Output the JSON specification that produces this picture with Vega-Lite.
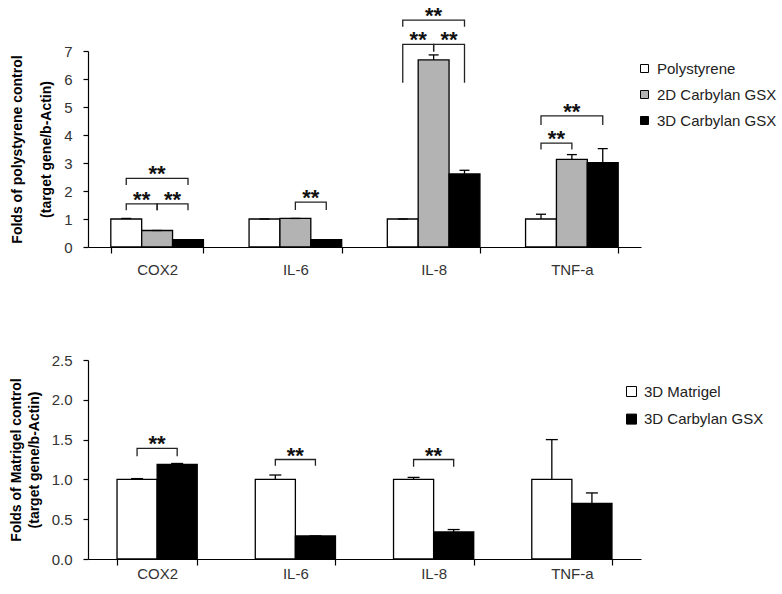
{
  "$schema": "https://vega.github.io/schema/vega-lite/v6.json",
  "padding": {"left": 9, "top": 5, "right": 5, "bottom": 5},
  "spacing": 76,
  "resolve": {
    "scale": {"x": "independent", "xOffset": "independent", "y": "independent", "color": "independent"},
    "axis": {"x": "independent", "y": "independent"},
    "legend": {"color": "independent"}
  },
  "config": {
    "view": {"stroke": null},
    "font": "Liberation Sans",
    "axis": {
      "grid": false, "domainColor": "black", "tickColor": "black", "domainWidth": 1.2, "tickWidth": 1.2,
      "labelColor": "#333", "labelFontSize": 15, "labelFont": "Liberation Sans",
      "tickSize": 5, "labelPadding": 11,
      "titleFont": "Liberation Sans", "titleFontSize": 14, "titleFontWeight": "bold", "titleColor": "black"
    },
    "legend": {"labelFont": "Liberation Sans", "labelFontSize": 15, "labelColor": "#222", "padding": 0}
  },
  "datasets": {
    "top_bars": [
      {"gene": "COX2", "group": "Polystyrene", "value": 1.0, "hi": 1.02},
      {"gene": "COX2", "group": "2D Carbylan GSX", "value": 0.59, "hi": 0.59},
      {"gene": "COX2", "group": "3D Carbylan GSX", "value": 0.26, "hi": 0.26},
      {"gene": "IL-6", "group": "Polystyrene", "value": 1.0, "hi": 1.0},
      {"gene": "IL-6", "group": "2D Carbylan GSX", "value": 1.02, "hi": 1.02},
      {"gene": "IL-6", "group": "3D Carbylan GSX", "value": 0.26, "hi": 0.26},
      {"gene": "IL-8", "group": "Polystyrene", "value": 1.0, "hi": 1.0},
      {"gene": "IL-8", "group": "2D Carbylan GSX", "value": 6.68, "hi": 6.86},
      {"gene": "IL-8", "group": "3D Carbylan GSX", "value": 2.61, "hi": 2.74},
      {"gene": "TNF-a", "group": "Polystyrene", "value": 1.0, "hi": 1.17},
      {"gene": "TNF-a", "group": "2D Carbylan GSX", "value": 3.13, "hi": 3.3},
      {"gene": "TNF-a", "group": "3D Carbylan GSX", "value": 3.01, "hi": 3.51}
    ],
    "top_brackets": [
      {"id": "c1", "gene": "COX2", "group": "Polystyrene", "y": 1.31, "ord": 1},
      {"id": "c1", "gene": "COX2", "group": "Polystyrene", "y": 1.54, "ord": 2},
      {"id": "c1", "gene": "COX2", "group": "2D Carbylan GSX", "y": 1.54, "ord": 3},
      {"id": "c1", "gene": "COX2", "group": "2D Carbylan GSX", "y": 1.31, "ord": 4},
      {"id": "c2", "gene": "COX2", "group": "2D Carbylan GSX", "y": 1.31, "ord": 1},
      {"id": "c2", "gene": "COX2", "group": "2D Carbylan GSX", "y": 1.54, "ord": 2},
      {"id": "c2", "gene": "COX2", "group": "3D Carbylan GSX", "y": 1.54, "ord": 3},
      {"id": "c2", "gene": "COX2", "group": "3D Carbylan GSX", "y": 1.31, "ord": 4},
      {"id": "c3", "gene": "COX2", "group": "Polystyrene", "y": 2.21, "ord": 1},
      {"id": "c3", "gene": "COX2", "group": "Polystyrene", "y": 2.45, "ord": 2},
      {"id": "c3", "gene": "COX2", "group": "3D Carbylan GSX", "y": 2.45, "ord": 3},
      {"id": "c3", "gene": "COX2", "group": "3D Carbylan GSX", "y": 2.21, "ord": 4},
      {"id": "i6", "gene": "IL-6", "group": "2D Carbylan GSX", "y": 1.32, "ord": 1},
      {"id": "i6", "gene": "IL-6", "group": "2D Carbylan GSX", "y": 1.6, "ord": 2},
      {"id": "i6", "gene": "IL-6", "group": "3D Carbylan GSX", "y": 1.6, "ord": 3},
      {"id": "i6", "gene": "IL-6", "group": "3D Carbylan GSX", "y": 1.32, "ord": 4},
      {"id": "i8a", "gene": "IL-8", "group": "Polystyrene", "y": 5.87, "ord": 1},
      {"id": "i8a", "gene": "IL-8", "group": "Polystyrene", "y": 7.24, "ord": 2},
      {"id": "i8a", "gene": "IL-8", "group": "2D Carbylan GSX", "y": 7.24, "ord": 3},
      {"id": "i8a", "gene": "IL-8", "group": "2D Carbylan GSX", "y": 6.98, "ord": 4},
      {"id": "i8b", "gene": "IL-8", "group": "2D Carbylan GSX", "y": 6.98, "ord": 1},
      {"id": "i8b", "gene": "IL-8", "group": "2D Carbylan GSX", "y": 7.24, "ord": 2},
      {"id": "i8b", "gene": "IL-8", "group": "3D Carbylan GSX", "y": 7.24, "ord": 3},
      {"id": "i8b", "gene": "IL-8", "group": "3D Carbylan GSX", "y": 5.87, "ord": 4},
      {"id": "i8c", "gene": "IL-8", "group": "Polystyrene", "y": 7.87, "ord": 1},
      {"id": "i8c", "gene": "IL-8", "group": "Polystyrene", "y": 8.1, "ord": 2},
      {"id": "i8c", "gene": "IL-8", "group": "3D Carbylan GSX", "y": 8.1, "ord": 3},
      {"id": "i8c", "gene": "IL-8", "group": "3D Carbylan GSX", "y": 7.87, "ord": 4},
      {"id": "ta", "gene": "TNF-a", "group": "Polystyrene", "y": 3.48, "ord": 1},
      {"id": "ta", "gene": "TNF-a", "group": "Polystyrene", "y": 3.71, "ord": 2},
      {"id": "ta", "gene": "TNF-a", "group": "2D Carbylan GSX", "y": 3.71, "ord": 3},
      {"id": "ta", "gene": "TNF-a", "group": "2D Carbylan GSX", "y": 3.48, "ord": 4},
      {"id": "tc", "gene": "TNF-a", "group": "Polystyrene", "y": 4.36, "ord": 1},
      {"id": "tc", "gene": "TNF-a", "group": "Polystyrene", "y": 4.68, "ord": 2},
      {"id": "tc", "gene": "TNF-a", "group": "3D Carbylan GSX", "y": 4.68, "ord": 3},
      {"id": "tc", "gene": "TNF-a", "group": "3D Carbylan GSX", "y": 4.36, "ord": 4}
    ],
    "top_stars": [
      {"gene": "COX2", "group": "Polystyrene", "y": 1.54, "between": true, "label": "**"},
      {"gene": "COX2", "group": "2D Carbylan GSX", "y": 1.54, "between": true, "label": "**"},
      {"gene": "COX2", "group": "2D Carbylan GSX", "y": 2.45, "between": false, "label": "**"},
      {"gene": "IL-6", "group": "2D Carbylan GSX", "y": 1.6, "between": true, "label": "**"},
      {"gene": "IL-8", "group": "Polystyrene", "y": 7.24, "between": true, "label": "**"},
      {"gene": "IL-8", "group": "2D Carbylan GSX", "y": 7.24, "between": true, "label": "**"},
      {"gene": "IL-8", "group": "2D Carbylan GSX", "y": 8.1, "between": false, "label": "**"},
      {"gene": "TNF-a", "group": "Polystyrene", "y": 3.71, "between": true, "label": "**"},
      {"gene": "TNF-a", "group": "2D Carbylan GSX", "y": 4.68, "between": false, "label": "**"}
    ],
    "bot_bars": [
      {"gene": "COX2", "group": "3D Matrigel", "value": 1.0, "hi": 1.01},
      {"gene": "COX2", "group": "3D Carbylan GSX", "value": 1.19, "hi": 1.2},
      {"gene": "IL-6", "group": "3D Matrigel", "value": 1.0, "hi": 1.055},
      {"gene": "IL-6", "group": "3D Carbylan GSX", "value": 0.29, "hi": 0.29},
      {"gene": "IL-8", "group": "3D Matrigel", "value": 1.0, "hi": 1.025},
      {"gene": "IL-8", "group": "3D Carbylan GSX", "value": 0.34, "hi": 0.37},
      {"gene": "TNF-a", "group": "3D Matrigel", "value": 1.0, "hi": 1.5},
      {"gene": "TNF-a", "group": "3D Carbylan GSX", "value": 0.7, "hi": 0.83}
    ],
    "bot_brackets": [
      {"id": "c", "gene": "COX2", "group": "3D Matrigel", "y": 1.29, "ord": 1},
      {"id": "c", "gene": "COX2", "group": "3D Matrigel", "y": 1.39, "ord": 2},
      {"id": "c", "gene": "COX2", "group": "3D Carbylan GSX", "y": 1.39, "ord": 3},
      {"id": "c", "gene": "COX2", "group": "3D Carbylan GSX", "y": 1.29, "ord": 4},
      {"id": "i6", "gene": "IL-6", "group": "3D Matrigel", "y": 1.17, "ord": 1},
      {"id": "i6", "gene": "IL-6", "group": "3D Matrigel", "y": 1.25, "ord": 2},
      {"id": "i6", "gene": "IL-6", "group": "3D Carbylan GSX", "y": 1.25, "ord": 3},
      {"id": "i6", "gene": "IL-6", "group": "3D Carbylan GSX", "y": 1.17, "ord": 4},
      {"id": "i8", "gene": "IL-8", "group": "3D Matrigel", "y": 1.16, "ord": 1},
      {"id": "i8", "gene": "IL-8", "group": "3D Matrigel", "y": 1.25, "ord": 2},
      {"id": "i8", "gene": "IL-8", "group": "3D Carbylan GSX", "y": 1.25, "ord": 3},
      {"id": "i8", "gene": "IL-8", "group": "3D Carbylan GSX", "y": 1.16, "ord": 4}
    ],
    "bot_stars": [
      {"gene": "COX2", "y": 1.39, "label": "**"},
      {"gene": "IL-6", "y": 1.25, "label": "**"},
      {"gene": "IL-8", "y": 1.25, "label": "**"}
    ]
  },
  "vconcat": [
    {
      "width": 553,
      "height": 196,
      "layer": [
        {
          "data": {"name": "top_bars"},
          "mark": {"type": "bar", "stroke": "black", "strokeWidth": 1.3},
          "encoding": {
            "x": {"field": "gene", "type": "nominal", "scale": {"domain": ["COX2", "IL-6", "IL-8", "TNF-a"], "paddingInner": 0.33, "paddingOuter": 0.165},
              "axis": {"title": null, "labelAngle": 0, "tickBand": "extent", "tickSize": 6, "labelPadding": 9}},
            "xOffset": {"field": "group", "type": "nominal", "scale": {"domain": ["Polystyrene", "2D Carbylan GSX", "3D Carbylan GSX"], "paddingInner": 0, "paddingOuter": 0}},
            "y": {"field": "value", "type": "quantitative", "scale": {"domain": [0, 7], "nice": false},
              "axis": {"title": ["Folds of polystyrene control", "(target gene/b-Actin)"], "values": [0, 1, 2, 3, 4, 5, 6, 7], "titleLineHeight": 29, "titlePadding": 10}},
            "color": {"field": "group", "type": "nominal", "scale": {"domain": ["Polystyrene", "2D Carbylan GSX", "3D Carbylan GSX"], "range": ["white", "#b3b3b3", "black"]},
              "legend": {"title": null, "orient": "none", "legendX": 549, "legendY": 10, "symbolType": "square", "symbolSize": 64, "symbolStrokeColor": "black", "symbolStrokeWidth": 1, "rowPadding": 10, "labelOffset": 5}}
          }
        },
        {
          "data": {"name": "top_bars"},
          "mark": {"type": "rule", "color": "black", "strokeWidth": 1.3},
          "encoding": {
            "x": {"field": "gene", "type": "nominal"},
            "xOffset": {"field": "group", "type": "nominal"},
            "y": {"field": "value", "type": "quantitative", "axis": {"title": ["Folds of polystyrene control", "(target gene/b-Actin)"], "values": [0, 1, 2, 3, 4, 5, 6, 7], "titleLineHeight": 29, "titlePadding": 10}},
            "y2": {"field": "hi"}
          }
        },
        {
          "data": {"name": "top_bars"},
          "mark": {"type": "tick", "orient": "horizontal", "size": 10, "thickness": 1.3, "color": "black", "opacity": 1},
          "encoding": {
            "x": {"field": "gene", "type": "nominal"},
            "xOffset": {"field": "group", "type": "nominal"},
            "y": {"field": "hi", "type": "quantitative", "axis": {"title": ["Folds of polystyrene control", "(target gene/b-Actin)"], "values": [0, 1, 2, 3, 4, 5, 6, 7], "titleLineHeight": 29, "titlePadding": 10}}
          }
        },
        {
          "data": {"name": "top_brackets"},
          "mark": {"type": "line", "color": "#222", "strokeWidth": 1.3},
          "encoding": {
            "x": {"field": "gene", "type": "nominal"},
            "xOffset": {"field": "group", "type": "nominal"},
            "y": {"field": "y", "type": "quantitative", "axis": {"title": ["Folds of polystyrene control", "(target gene/b-Actin)"], "values": [0, 1, 2, 3, 4, 5, 6, 7], "titleLineHeight": 29, "titlePadding": 10}},
            "detail": {"field": "id"},
            "order": {"field": "ord"}
          }
        },
        {
          "data": {"name": "top_stars"},
          "transform": [{"filter": "datum.between"}],
          "mark": {"type": "text", "fontSize": 22, "fontWeight": "bold", "dx": 15.4, "dy": 3, "baseline": "alphabetic", "color": "#111"},
          "encoding": {
            "x": {"field": "gene", "type": "nominal"},
            "xOffset": {"field": "group", "type": "nominal"},
            "y": {"field": "y", "type": "quantitative", "axis": {"title": ["Folds of polystyrene control", "(target gene/b-Actin)"], "values": [0, 1, 2, 3, 4, 5, 6, 7], "titleLineHeight": 29, "titlePadding": 10}},
            "text": {"field": "label"}
          }
        },
        {
          "data": {"name": "top_stars"},
          "transform": [{"filter": "!datum.between"}],
          "mark": {"type": "text", "fontSize": 22, "fontWeight": "bold", "dy": 3, "baseline": "alphabetic", "color": "#111"},
          "encoding": {
            "x": {"field": "gene", "type": "nominal"},
            "xOffset": {"field": "group", "type": "nominal"},
            "y": {"field": "y", "type": "quantitative", "axis": {"title": ["Folds of polystyrene control", "(target gene/b-Actin)"], "values": [0, 1, 2, 3, 4, 5, 6, 7], "titleLineHeight": 29, "titlePadding": 10}},
            "text": {"field": "label"}
          }
        }
      ]
    },
    {
      "width": 553,
      "height": 199,
      "layer": [
        {
          "data": {"name": "bot_bars"},
          "mark": {"type": "bar", "stroke": "black", "strokeWidth": 1.3},
          "encoding": {
            "x": {"field": "gene", "type": "nominal", "scale": {"domain": ["COX2", "IL-6", "IL-8", "TNF-a"], "paddingInner": 0.42, "paddingOuter": 0.21},
              "axis": {"title": null, "labelAngle": 0, "tickBand": "extent", "tickSize": 6, "labelPadding": 1}},
            "xOffset": {"field": "group", "type": "nominal", "scale": {"domain": ["3D Matrigel", "3D Carbylan GSX"], "paddingInner": 0, "paddingOuter": 0}},
            "y": {"field": "value", "type": "quantitative", "scale": {"domain": [0, 2.5], "nice": false},
              "axis": {"title": ["Folds of Matrigel control", "(target gene/b-Actin)"], "values": [0, 0.5, 1, 1.5, 2, 2.5], "format": ".1f", "titleLineHeight": 18, "titlePadding": 10}},
            "color": {"field": "group", "type": "nominal", "scale": {"domain": ["3D Matrigel", "3D Carbylan GSX"], "range": ["white", "black"]},
              "legend": {"title": null, "orient": "none", "legendX": 536, "legendY": 24, "symbolType": "square", "symbolSize": 100, "symbolStrokeColor": "black", "symbolStrokeWidth": 1, "rowPadding": 11.6, "labelOffset": 5}}
          }
        },
        {
          "data": {"name": "bot_bars"},
          "mark": {"type": "rule", "color": "black", "strokeWidth": 1.3},
          "encoding": {
            "x": {"field": "gene", "type": "nominal"},
            "xOffset": {"field": "group", "type": "nominal"},
            "y": {"field": "value", "type": "quantitative", "axis": {"title": ["Folds of Matrigel control", "(target gene/b-Actin)"], "values": [0, 0.5, 1, 1.5, 2, 2.5], "format": ".1f", "titleLineHeight": 18, "titlePadding": 10}},
            "y2": {"field": "hi"}
          }
        },
        {
          "data": {"name": "bot_bars"},
          "mark": {"type": "tick", "orient": "horizontal", "size": 12, "thickness": 1.3, "color": "black", "opacity": 1},
          "encoding": {
            "x": {"field": "gene", "type": "nominal"},
            "xOffset": {"field": "group", "type": "nominal"},
            "y": {"field": "hi", "type": "quantitative", "axis": {"title": ["Folds of Matrigel control", "(target gene/b-Actin)"], "values": [0, 0.5, 1, 1.5, 2, 2.5], "format": ".1f", "titleLineHeight": 18, "titlePadding": 10}}
          }
        },
        {
          "data": {"name": "bot_brackets"},
          "mark": {"type": "line", "color": "#222", "strokeWidth": 1.3},
          "encoding": {
            "x": {"field": "gene", "type": "nominal"},
            "xOffset": {"field": "group", "type": "nominal"},
            "y": {"field": "y", "type": "quantitative", "axis": {"title": ["Folds of Matrigel control", "(target gene/b-Actin)"], "values": [0, 0.5, 1, 1.5, 2, 2.5], "format": ".1f", "titleLineHeight": 18, "titlePadding": 10}},
            "detail": {"field": "id"},
            "order": {"field": "ord"}
          }
        },
        {
          "data": {"name": "bot_stars"},
          "mark": {"type": "text", "fontSize": 22, "fontWeight": "bold", "dy": 3, "baseline": "alphabetic", "color": "#111"},
          "encoding": {
            "x": {"field": "gene", "type": "nominal"},
            "y": {"field": "y", "type": "quantitative", "axis": {"title": ["Folds of Matrigel control", "(target gene/b-Actin)"], "values": [0, 0.5, 1, 1.5, 2, 2.5], "format": ".1f", "titleLineHeight": 18, "titlePadding": 10}},
            "text": {"field": "label"}
          }
        }
      ]
    }
  ]
}
